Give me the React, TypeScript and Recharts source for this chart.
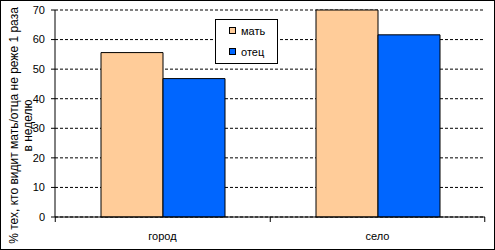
import React from 'react';
import {
  BarChart,
  Bar,
  XAxis,
  YAxis,
  CartesianGrid,
} from 'recharts';

const categories = ['город', 'село'];
const motherValues = [55.6, 70];
const fatherValues = [46.8, 61.6];
const yTicks = [0, 10, 20, 30, 40, 50, 60, 70];
const seriesNames = { mother: 'мать', father: 'отец' };

const MOTHER_COLOR = '#FFCC99';
const FATHER_COLOR = '#0066FF';
const FONT = 'Arial, "Liberation Sans", sans-serif';

const data = categories.map((name, i) => ({
  name,
  mother: motherValues[i],
  father: fatherValues[i],
}));

const PLOT_LEFT = 55;
const PLOT_RIGHT = 484;
const bandWidth = (PLOT_RIGHT - PLOT_LEFT) / categories.length;

const CategoryTick = (props: any) => {
  const { x, y, payload, index } = props;
  const left = x - bandWidth / 2;
  const right = x + bandWidth / 2;
  return (
    <g>
      <line x1={left} y1={y} x2={left} y2={y + 5} stroke="#000" />
      {index === categories.length - 1 && (
        <line x1={right} y1={y} x2={right} y2={y + 5} stroke="#000" />
      )}
      <text
        x={x}
        y={y + 23}
        textAnchor="middle"
        fontSize={11}
        fontFamily={FONT}
        fill="#000"
      >
        {payload.value}
      </text>
    </g>
  );
};

const AxisTitle = (props: any) => {
  const { viewBox } = props;
  const cy = viewBox.y + viewBox.height / 2 + 12;
  return (
    <g fontSize={12} fontFamily={FONT} fill="#000">
      <text x={18} y={cy} textAnchor="middle" transform={`rotate(-90, 18, ${cy})`}>
        % тех, кто видит мать/отца не реже 1 раза
      </text>
      <text x={32} y={cy} textAnchor="middle" transform={`rotate(-90, 32, ${cy})`}>
        в неделю
      </text>
    </g>
  );
};

const LegendBox = () => (
  <div
    style={{
      position: 'absolute',
      left: 214,
      top: 18,
      width: 63,
      height: 45,
      border: '1px solid #000',
      boxSizing: 'border-box',
      background: '#fff',
      fontFamily: FONT,
      fontSize: 11,
      paddingTop: 3,
    }}
  >
    {[
      { label: seriesNames.mother, color: MOTHER_COLOR },
      { label: seriesNames.father, color: FATHER_COLOR },
    ].map((item) => (
      <div
        key={item.label}
        style={{ display: 'flex', alignItems: 'center', height: 15, marginBottom: 6 }}
      >
        <span
          style={{
            display: 'inline-block',
            width: 5,
            height: 5,
            background: item.color,
            border: '1px solid #000',
            marginLeft: 13,
            marginRight: 5,
          }}
        />
        <span>{item.label}</span>
      </div>
    ))}
  </div>
);

export default function App() {
  return (
    <div
      style={{
        position: 'absolute',
        left: 0,
        top: 0,
        width: 495,
        height: 250,
        border: '1px solid #000',
        boxSizing: 'border-box',
        background: '#fff',
      }}
    >
      <div style={{ position: 'absolute', left: -1, top: -1 }}>
        <BarChart
          width={495}
          height={250}
          data={data}
          margin={{ top: 10, right: 10, left: 0, bottom: 0 }}
          barCategoryGap={46}
          barGap={0}
        >
          <CartesianGrid
            horizontal
            vertical={false}
            stroke="#000"
            strokeDasharray="3 2"
          />
          <XAxis
            dataKey="name"
            height={33}
            axisLine={{ stroke: '#000' }}
            tickLine={false}
            tickSize={0}
            tickMargin={0}
            tick={<CategoryTick />}
            interval={0}
          />
          <XAxis
            xAxisId="top"
            dataKey="name"
            orientation="top"
            height={0}
            axisLine={{ stroke: '#000' }}
            tick={false}
            tickLine={false}
          />
          <YAxis
            domain={[0, 70]}
            ticks={yTicks}
            width={55}
            interval={0}
            axisLine={{ stroke: '#000' }}
            tickLine={{ stroke: '#000' }}
            tickSize={4}
            tickMargin={6}
            tick={{ fill: '#000', fontSize: 11, fontFamily: FONT }}
            label={<AxisTitle />}
          />
          <YAxis
            yAxisId="right"
            orientation="right"
            domain={[0, 70]}
            width={0}
            axisLine={{ stroke: '#000' }}
            tick={false}
            tickLine={false}
          />
          <Bar
            dataKey="mother"
            name={seriesNames.mother}
            fill={MOTHER_COLOR}
            stroke="#000"
            strokeWidth={1}
            isAnimationActive={false}
          />
          <Bar
            dataKey="father"
            name={seriesNames.father}
            fill={FATHER_COLOR}
            stroke="#000"
            strokeWidth={1}
            isAnimationActive={false}
          />
        </BarChart>
      </div>
      <LegendBox />
    </div>
  );
}
